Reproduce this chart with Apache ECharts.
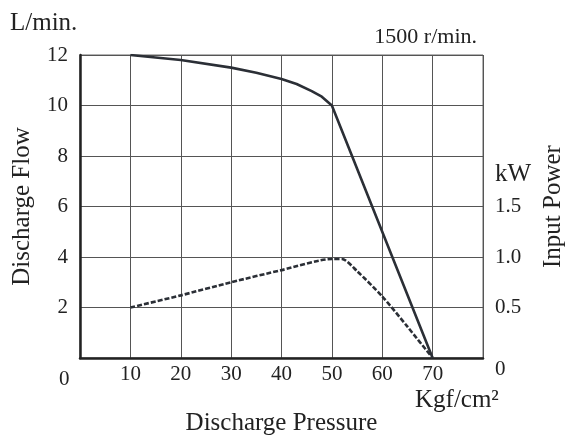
<!DOCTYPE html>
<html>
<head>
<meta charset="utf-8">
<script src="https://cdn.jsdelivr.net/npm/echarts@6/dist/echarts.min.js"></script>
<style>
  html, body { margin: 0; padding: 0; background: #fff; }
  #chart { width: 566px; height: 435px; }
</style>
</head>
<body>
<div id="chart"></div>
<script>
  // pressure (Kgf/cm2) vs flow (L/min.)
  var flowPressure = [10, 20, 30, 35, 40, 43, 46, 48, 50, 70];
  var flowValues = [12, 11.8, 11.5, 11.3, 11.05, 10.85, 10.57, 10.35, 10, 0];
  // pressure vs input power (kW)
  var powerPressure = [10, 20, 30, 40, 50, 52, 55, 60, 65, 70];
  var powerValues = [0.5, 0.62, 0.75, 0.87, 0.98, 0.98, 0.86, 0.61, 0.31, 0];

  var fontFam = 'Liberation Serif';
  var textColor = '#222';

  var chart = echarts.init(document.getElementById('chart'));

  function pairs(xs, ys) {
    var out = [];
    for (var i = 0; i < xs.length; i++) out.push([xs[i], ys[i]]);
    return out;
  }

  var option = {
    backgroundColor: '#fff',
    animation: false,
    grid: {
      left: 80, top: 55, width: 403, height: 303,
      outerBoundsMode: 'none', containLabel: false,
      show: true, borderColor: '#666', borderWidth: 1
    },
    xAxis: {
      type: 'value', min: 0, max: 80, interval: 10,
      name: 'Discharge Pressure', nameLocation: 'middle', nameGap: 53,
      nameTextStyle: { fontFamily: fontFam, fontSize: 25, color: textColor },
      axisLine: { lineStyle: { color: '#222', width: 2.5 } },
      axisTick: { show: false },
      axisLabel: {
        fontFamily: fontFam, fontSize: 21, color: textColor, margin: 6,
        formatter: function (v) { return (v === 0 || v === 80) ? '' : v; }
      },
      splitLine: { lineStyle: { color: '#555', width: 1 } }
    },
    yAxis: [{
      type: 'value', min: 0, max: 12, interval: 2,
      name: 'Discharge Flow', nameLocation: 'middle', nameGap: 45, nameRotate: 90,
      nameTextStyle: { fontFamily: fontFam, fontSize: 25, color: textColor },
      axisLine: { show: true, lineStyle: { color: '#222', width: 2.5 } },
      axisTick: { show: false },
      axisLabel: {
        fontFamily: fontFam, fontSize: 21, color: textColor, margin: 12,
        formatter: function (v) { return v === 0 ? '' : v; }
      },
      splitLine: { lineStyle: { color: '#555', width: 1 } }
    }, {
      type: 'value', min: 0, max: 3, interval: 0.5, position: 'right',
      name: 'Input Power', nameLocation: 'middle', nameGap: 58, nameRotate: 90,
      nameTextStyle: { fontFamily: fontFam, fontSize: 25, color: textColor },
      axisLine: { show: false },
      axisTick: { show: false },
      axisLabel: {
        fontFamily: fontFam, fontSize: 21, color: textColor, margin: 12,
        formatter: function (v) {
          if (v === 0 || v > 1.5) return '';
          return v.toFixed(1);
        }
      },
      splitLine: { show: false }
    }],
    graphic: [
      { type: 'text', left: 10, top: 11, style: { text: 'L/min.', font: '25px ' + fontFam, fill: textColor } },
      { type: 'text', right: 89, top: 26, style: { text: '1500 r/min.', font: '22px ' + fontFam, fill: textColor } },
      { type: 'text', left: 495, top: 162, style: { text: 'kW', font: '25px ' + fontFam, fill: textColor } },
      { type: 'text', left: 59, top: 369, style: { text: '0', font: '21px ' + fontFam, fill: textColor } },
      { type: 'text', left: 495, top: 359, style: { text: '0', font: '21px ' + fontFam, fill: textColor } },
      { type: 'text', left: 415, top: 388, style: { text: 'Kgf/cm²', font: '25px ' + fontFam, fill: textColor } }
    ],
    series: [{
      name: 'Discharge Flow',
      type: 'line',
      data: pairs(flowPressure, flowValues),
      showSymbol: false,
      lineStyle: { color: '#2b2f36', width: 2.6 },
      z: 3
    }, {
      name: 'Input Power',
      type: 'line',
      yAxisIndex: 1,
      data: pairs(powerPressure, powerValues),
      smooth: 0.25,
      showSymbol: false,
      lineStyle: { color: '#2b2f36', width: 2.6, type: [5, 2] },
      z: 3
    }]
  };

  chart.setOption(option);
</script>
</body>
</html>
